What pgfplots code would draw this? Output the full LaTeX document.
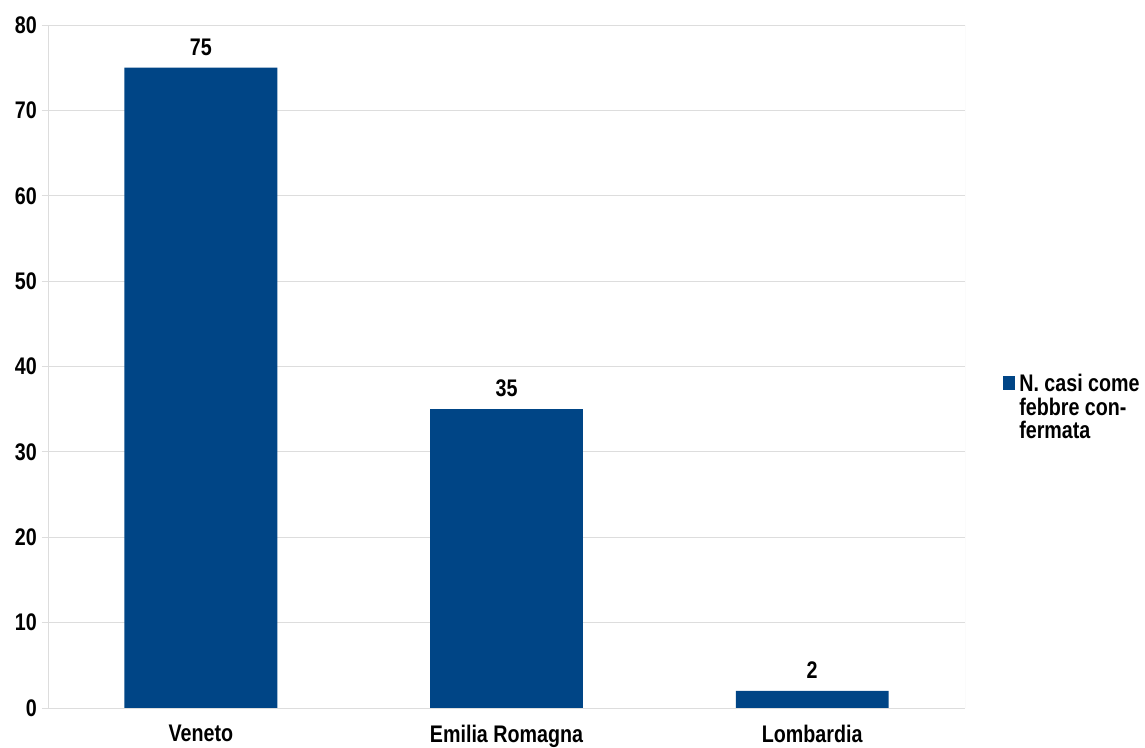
\documentclass[border=0pt]{standalone}
\usepackage{pgfplots}
\pgfplotsset{compat=1.18}
\usepackage{fontspec}
\setmainfont{Liberation Sans}[FakeStretch=0.82]
\definecolor{barblue}{HTML}{004586}
\definecolor{gridgray}{HTML}{DDDDDD}
\newcommand{\chartfont}{\fontsize{24}{23.5}\selectfont\bfseries}
\begin{document}
\begin{tikzpicture}
\begin{axis}[
  scale only axis,
  width=917pt, height=683pt,
  ybar, bar width=0.5,
  xmin=-0.5, xmax=2.5,
  ymin=0, ymax=80,
  ytick={0,10,...,80},
  xtick={0,1,2},
  xticklabels={Veneto, Emilia Romagna, Lombardia},
  major x tick style={draw=none},
  extra x ticks={-0.5,0.5,1.5,2.5},
  extra x tick labels={},
  extra x tick style={tick style={draw=gridgray, line width=0.8pt}, major tick length=6pt, tick align=outside, grid=none},
  tick align=outside,
  major tick length=6pt,
  y tick style={draw=gridgray, line width=0.8pt},
  ymajorgrids, major grid style={draw=gridgray, line width=0.8pt},
  axis line style={draw=gridgray, line width=0.8pt},
  axis x line*=bottom, axis y line*=left,
  /pgf/number format/assume math mode=true,
  tick label style={font=\chartfont, inner sep=0pt},
  yticklabel style={xshift=-5pt},
  xticklabel style={yshift=-11pt},
  nodes near coords,
  every node near coord/.append style={font=\chartfont, black, inner sep=0pt, yshift=12pt},
  legend style={at={(1.041,0.44)}, anchor=west, draw=none, fill=none, inner sep=0pt,
    column sep=2.5pt,
    font=\chartfont, cells={align=left, anchor=west, inner sep=1.5pt}},
  legend image code/.code={
    \path[draw=none, fill=none] (0pt,-36pt) rectangle (12pt,36pt);
    \fill[barblue] (0pt,17pt) rectangle (12pt,31pt);},
]
\addplot[fill=barblue, draw=none] coordinates {(0,75) (1,35) (2,2)};
\addlegendentry{N. casi come\\febbre con-\\fermata}
\draw[gridgray, line width=0.8pt] (axis cs:2.5,0) -- (axis cs:2.5,80);
\end{axis}
\path (current axis.south west) ++(-48pt,-38pt) rectangle ++(1145pt,746pt);
\end{tikzpicture}
\end{document}
